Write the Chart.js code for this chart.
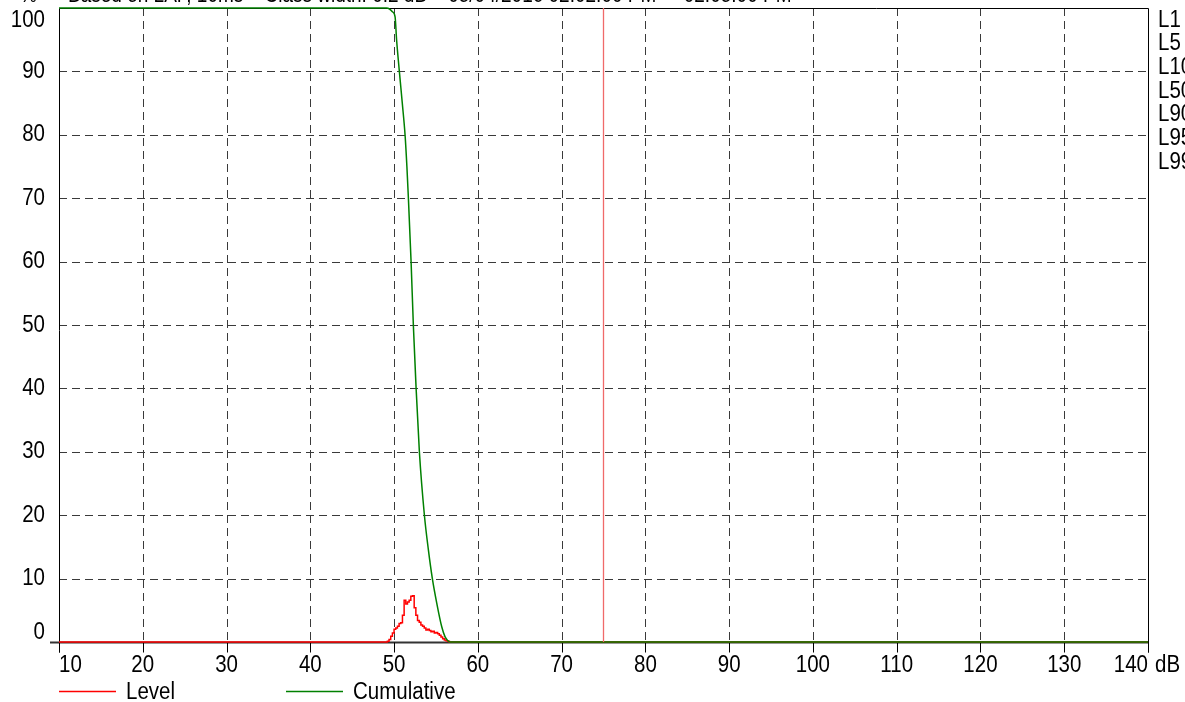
<!DOCTYPE html>
<html>
<head>
<meta charset="utf-8">
<script src="https://cdn.jsdelivr.net/npm/chart.js@4.4.1/dist/chart.umd.min.js"></script>
<style>
  html, body { margin: 0; padding: 0; background: #ffffff; overflow: hidden; }
  #wrap { width: 1185px; height: 702px; position: relative; }
  canvas { display: block; }
</style>
</head>
<body>
<div id="wrap"><canvas id="c" width="1185" height="702"></canvas></div>
<script>
// ---------- data ----------
const dbTicks = [10, 20, 30, 40, 50, 60, 70, 80, 90, 100, 110, 120, 130, 140];
const pctTicks = [0, 10, 20, 30, 40, 50, 60, 70, 80, 90, 100];
const xUnit = 'dB';
const yUnit = '%';
const titleText = 'Based on LAF, 10ms    Class width: 0.2 dB    05/04/2016 02:02:00 PM  -  02:05:00 PM';
const statLabels = ['L1', 'L5', 'L10', 'L50', 'L90', 'L95', 'L99'];
const seriesNames = ['Level', 'Cumulative'];

const levelDb = [10, 49.1, 49.3, 49.5, 49.7, 49.9, 50.1, 50.3, 50.5, 50.7, 50.9, 51.1, 51.3, 51.5, 51.7, 51.9,
  52.1, 52.3, 52.5, 52.7, 52.9, 53.1, 53.3, 53.5, 53.7, 53.9, 54.1, 54.3, 54.5, 54.7, 54.9,
  55.1, 55.3, 55.5, 55.7, 55.9, 56.1, 56.3, 56.5, 56.7, 140];
const levelPct = [0, 0, 0.1, 0.4, 0.9, 1.4, 2.0, 2.2, 2.5, 2.9, 3.05, 4.2, 6.6, 6.0, 6.3, 6.6,
  7.2, 7.3, 5.4, 4.2, 3.4, 3.1, 2.7, 2.5, 2.2, 1.9, 2.0, 1.8, 1.6, 1.7, 1.4,
  1.5, 1.3, 1.05, 0.8, 0.5, 0.3, 0.2, 0.1, 0, 0];

const cumDb = [10, 49.1, 49.5, 49.8, 50.12, 50.3, 50.63, 50.98, 51.31, 51.53, 51.71, 52.03, 52.3, 52.63,
  53.02, 53.62, 54.1, 54.57, 55.1, 55.69, 56.09, 56.4, 56.7, 140];
const cumPct = [100, 100, 99.8, 99.4, 98.6, 95, 90, 85, 80, 75, 70, 60, 50, 40,
  30, 20, 14.5, 10, 6.1, 2.4, 0.8, 0.25, 0, 0];

const markerDb = [75, 75];
const markerPct = [0, 100];

// ---------- styles ----------
const FONT = '"Liberation Sans", Arial, sans-serif';
const FONT_PX = 20.5;
const V_STRETCH = 1.18;
const levelColor = '#ff0000';
const cumColor = '#008000';
const markerColor = '#f06a6a';

const toPts = (xs, ys) => xs.map((x, i) => ({ x: x, y: ys[i] }));

function drawText(ctx, text, x, y, align, baseline) {
  ctx.save();
  ctx.translate(x, y);
  ctx.scale(1, V_STRETCH);
  ctx.textAlign = align || 'left';
  ctx.textBaseline = baseline || 'middle';
  ctx.fillText(text, 0, 0);
  ctx.restore();
}

const framePlugin = {
  id: 'frame',
  beforeDatasetsDraw(chart) {
    const ctx = chart.ctx;
    const a = chart.chartArea;
    const xs = chart.scales.x, ys = chart.scales.y;
    ctx.save();
    // dashed grid
    ctx.lineWidth = 1;
    ctx.strokeStyle = '#3a3a3a';
    ctx.setLineDash([8, 5]);
    dbTicks.forEach(v => {
      if (v === dbTicks[0] || v === dbTicks[dbTicks.length - 1]) return;
      const px = Math.round(xs.getPixelForValue(v)) + 0.5;
      ctx.beginPath(); ctx.moveTo(px, a.top); ctx.lineTo(px, a.bottom); ctx.stroke();
    });
    pctTicks.forEach(v => {
      if (v === pctTicks[0] || v === pctTicks[pctTicks.length - 1]) return;
      const py = Math.round(ys.getPixelForValue(v)) + 0.5;
      ctx.beginPath(); ctx.moveTo(a.left, py); ctx.lineTo(a.right, py); ctx.stroke();
    });
    ctx.setLineDash([]);
    // frame
    ctx.strokeStyle = '#000000';
    const L = Math.round(a.left) + 0.5, R = Math.round(a.right) + 0.5;
    const T = Math.round(a.top) + 0.5, B = Math.round(a.bottom) + 0.5;
    ctx.beginPath();
    ctx.moveTo(L, T); ctx.lineTo(R, T);
    ctx.moveTo(L, T); ctx.lineTo(L, B + 10);
    ctx.moveTo(R, T); ctx.lineTo(R, B + 10);
    ctx.stroke();
    // bottom axis line
    ctx.strokeStyle = '#333333';
    ctx.lineWidth = 2;
    ctx.beginPath(); ctx.moveTo(a.left - 9, B); ctx.lineTo(a.right, B); ctx.stroke();
    // x ticks
    ctx.lineWidth = 1;
    ctx.strokeStyle = '#000000';
    dbTicks.forEach(v => {
      const px = Math.round(xs.getPixelForValue(v)) + 0.5;
      ctx.beginPath(); ctx.moveTo(px, B); ctx.lineTo(px, B + 10); ctx.stroke();
    });
    ctx.restore();
  },
  afterDraw(chart) {
    const ctx = chart.ctx;
    const a = chart.chartArea;
    const xs = chart.scales.x, ys = chart.scales.y;
    ctx.save();
    ctx.fillStyle = '#000000';
    ctx.font = FONT_PX + 'px ' + FONT;
    // y labels
    pctTicks.forEach(v => {
      let py = ys.getPixelForValue(v);
      py = Math.max(a.top + 12, Math.min(a.bottom - 10, py));
      drawText(ctx, String(v), a.left - 14, py, 'right');
    });
    // x labels
    dbTicks.forEach((v, i) => {
      const px = xs.getPixelForValue(v);
      const al = i === 0 ? 'left' : (i === dbTicks.length - 1 ? 'right' : 'center');
      drawText(ctx, String(v), px, 665, al);
    });
    drawText(ctx, xUnit, a.right + 7, 665, 'left');
    // title (cut off at top edge)
    ctx.font = '19px ' + FONT;
    drawText(ctx, yUnit, 20, 2, 'left', 'alphabetic');
    drawText(ctx, titleText, 68, 2, 'left', 'alphabetic');
    ctx.font = FONT_PX + 'px ' + FONT;
    // right stat labels
    statLabels.forEach((s, i) => {
      drawText(ctx, s, a.right + 10, 20 + i * 23.7, 'left');
    });
    // legend
    const legendItems = [
      { name: seriesNames[0], color: levelColor, x: 59 },
      { name: seriesNames[1], color: cumColor, x: 286 }
    ];
    legendItems.forEach(it => {
      ctx.strokeStyle = it.color;
      ctx.lineWidth = 1.5;
      ctx.beginPath(); ctx.moveTo(it.x, 691.5); ctx.lineTo(it.x + 57, 691.5); ctx.stroke();
      ctx.fillStyle = '#000000';
      drawText(ctx, it.name, it.x + 67, 692, 'left');
    });
    ctx.restore();
  }
};

new Chart(document.getElementById('c'), {
  type: 'line',
  data: {
    datasets: [
      {
        label: 'marker',
        data: toPts(markerDb, markerPct),
        borderColor: markerColor,
        borderWidth: 1.3,
        pointRadius: 0,
        fill: false,
        clip: false
      },
      {
        label: seriesNames[1],
        data: toPts(cumDb, cumPct),
        borderColor: cumColor,
        borderWidth: 1.5,
        pointRadius: 0,
        cubicInterpolationMode: 'monotone',
        fill: false,
        clip: 4
      },
      {
        label: seriesNames[0],
        data: toPts(levelDb, levelPct),
        borderColor: levelColor,
        borderWidth: 1.5,
        pointRadius: 0,
        stepped: 'middle',
        fill: false,
        clip: 4
      }
    ]
  },
  options: {
    responsive: false,
    animation: false,
    devicePixelRatio: 1,
    layout: { padding: { left: 59, right: 37, top: 8, bottom: 60 } },
    plugins: { legend: { display: false }, tooltip: { enabled: false }, title: { display: false } },
    scales: {
      x: { type: 'linear', min: 10, max: 140, display: false },
      y: { type: 'linear', min: 0, max: 100, display: false }
    }
  },
  plugins: [framePlugin]
});
</script>
</body>
</html>
